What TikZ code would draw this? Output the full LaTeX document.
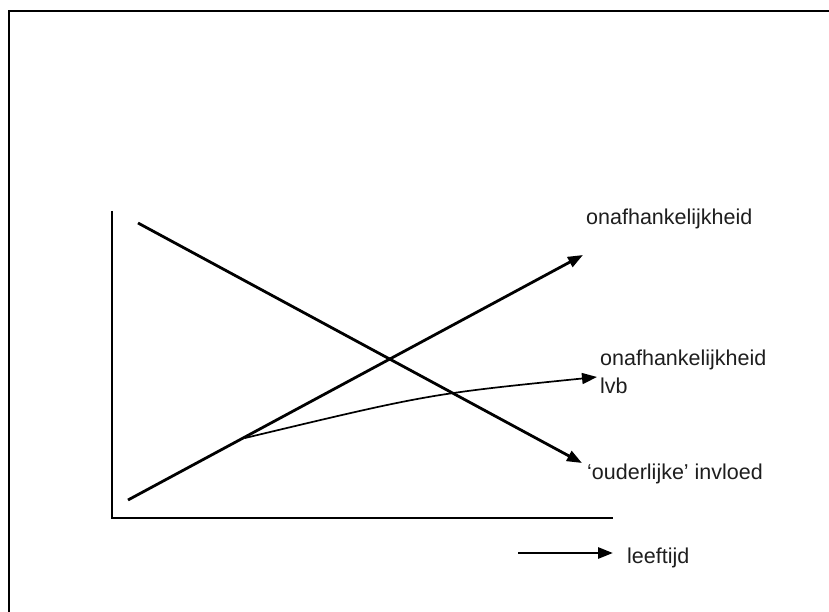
\documentclass[tikz,border=0pt]{standalone}
\usepackage{fontspec}
\setmainfont{Liberation Sans}
\usetikzlibrary{arrows.meta}
\definecolor{labelgray}{HTML}{1E1E1E}
\tikzset{
  axisline/.style={line width=2.4pt, black},
  trendline/.style={line width=2.8pt, black, -{Triangle[length=15pt,width=11pt]}},
  thincurve/.style={line width=1.7pt, black, -{Triangle[length=15pt,width=11pt]}},
  lbl/.style={anchor=base west, inner sep=0pt, text=labelgray, font=\fontsize{21.5}{26}\selectfont}
}
\begin{document}
\begin{tikzpicture}[x=1pt,y=-1pt]
\useasboundingbox (0,0) rectangle (829,612);
\fill[white] (0,0) rectangle (829,612);
% outer frame (top and left edges)
\draw[line width=2.2pt] (9,612) -- (9,11) -- (829,11);

% axes
\coordinate (ytop) at (112,211);
\coordinate (origin) at (112,518);
\coordinate (xend) at (613,518);
\draw[axisline] (ytop) -- (origin) -- (xend);

% trend lines
\coordinate (descA) at (138,223);
\coordinate (descB) at (582,463);
\coordinate (ascA) at (128,500);
\coordinate (ascB) at (583,255);
\coordinate (curveA) at (245,438);
\coordinate (curveB) at (597,377);
\draw[trendline] (descA) -- (descB);
\draw[trendline] (ascA) -- (ascB);
\draw[thincurve] (curveA) .. controls (429,394) .. (curveB);

% labels
\node[lbl] (onaf) at (586,225) {onafhankelijkheid};
\node[lbl] (onaflvb) at (600,365) {onafhankelijkheid};
\node[lbl] (lvb) at (600,393) {lvb};
\node[lbl] (ouder) at (587,479) {`ouderlijke' invloed};
\node[lbl] (leeftijd) at (627,563) {leeftijd};

% age arrow
\coordinate (ageA) at (518,553);
\coordinate (ageB) at (613,553);
\draw[trendline] (ageA) -- (ageB);
\end{tikzpicture}
\end{document}
